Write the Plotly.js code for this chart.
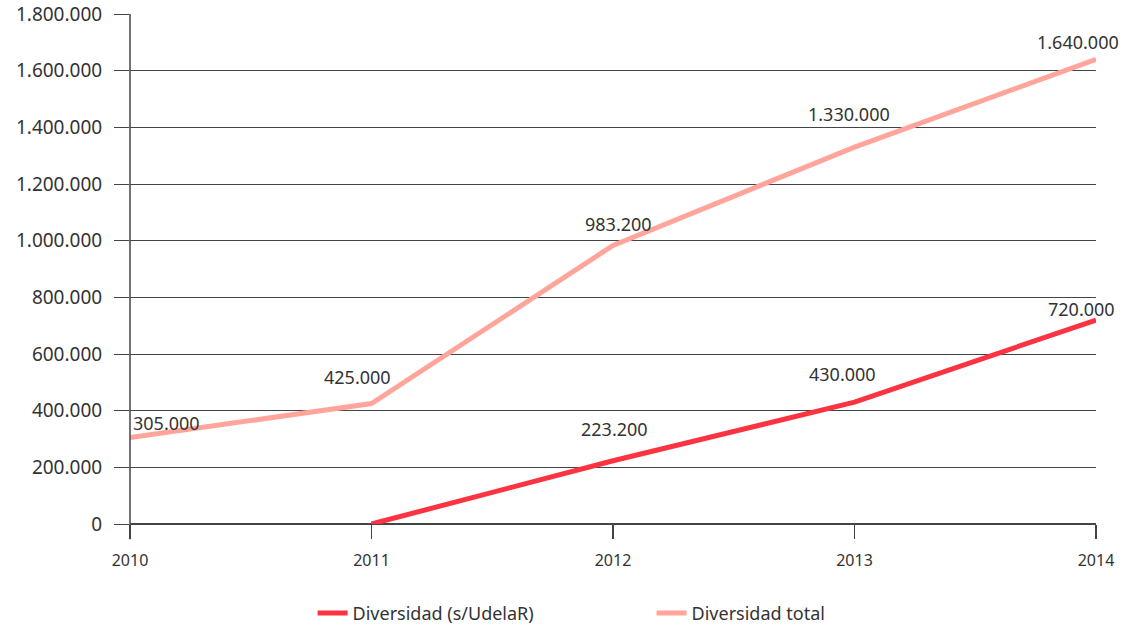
<!DOCTYPE html>
<html>
<head>
<meta charset="utf-8">
<script src="https://cdn.plot.ly/plotly-3.0.1.min.js"></script>
<style>html,body{margin:0;padding:0;background:#fff;}#chart{width:1132px;height:625px;}</style>
</head>
<body>
<div id="chart"></div>
<script>
const years = [2010, 2011, 2012, 2013, 2014];
const sinUdelar = [null, 0, 223200, 430000, 720000];
const total = [305000, 425000, 983200, 1330000, 1640000];
const sinUdelarLabels = ['', '', '223.200', '430.000', '720.000'];
const totalLabels = ['305.000', '425.000', '983.200', '1.330.000', '1.640.000'];
const yTicks = [0, 200000, 400000, 600000, 800000, 1000000, 1200000, 1400000, 1600000, 1800000];
const yTickText = ['0', '200.000', '400.000', '600.000', '800.000', '1.000.000', '1.200.000', '1.400.000', '1.600.000', '1.800.000'];

// label offsets in px (style only)
const sinShiftX = [0, 0, 1, -12, -15];
const sinShiftY = [0, 0, 32, 28, 11];
const totShiftX = [36, -14, 5, -6, -18];
const totShiftY = [15, 27, 21, 33, 17];

const font = 'Noto Sans, Open Sans, sans-serif';
const traces = [
  {
    x: years, y: sinUdelar, name: 'Diversidad (s/UdelaR)', mode: 'lines',
    line: {color: '#fc3441', width: 5}, connectgaps: false, cliponaxis: false
  },
  {
    x: years, y: total, name: 'Diversidad total', mode: 'lines',
    line: {color: '#ffa59c', width: 5}, cliponaxis: false
  }
];
const annotations = [];
years.forEach((yr, i) => {
  if (sinUdelarLabels[i]) annotations.push({x: yr, y: sinUdelar[i], text: sinUdelarLabels[i], showarrow: false,
    xshift: sinShiftX[i], yshift: sinShiftY[i], font: {family: font, size: 18, color: '#333'}});
  if (totalLabels[i]) annotations.push({x: yr, y: total[i], text: totalLabels[i], showarrow: false,
    xshift: totShiftX[i], yshift: totShiftY[i], font: {family: font, size: 18, color: '#333'}});
});
const layout = {
  width: 1132, height: 625,
  margin: {l: 130, r: 36, t: 14, b: 101, autoexpand: false},
  paper_bgcolor: '#fff', plot_bgcolor: '#fff',
  font: {family: font, color: '#333'},
  showlegend: true,
  legend: {orientation: 'h', x: 0.189, xanchor: 'left', y: -0.175, yanchor: 'middle',
    font: {family: font, size: 18, color: '#333'}, entrywidth: 294, traceorder: 'normal'},
  xaxis: {
    range: [2010, 2014], tickvals: years, ticktext: years.map(String),
    showgrid: false, zeroline: false, showline: false,
    ticks: 'outside', ticklen: 14, tickcolor: '#444', tickwidth: 1.5,
    tickfont: {family: font, size: 16, color: '#333'}, ticklabelstandoff: 8, fixedrange: true
  },
  yaxis: {
    range: [0, 1800000], tickvals: yTicks, ticktext: yTickText,
    showgrid: true, gridcolor: '#444', gridwidth: 1, zeroline: true, zerolinecolor: '#444', zerolinewidth: 1.5,
    showline: false, ticks: 'outside', ticklen: 15, tickcolor: '#444', tickwidth: 1,
    tickfont: {family: font, size: 19, color: '#333'}, ticklabelstandoff: 8, fixedrange: true
  },
  annotations: annotations,
  shapes: [
    {type: 'line', xref: 'paper', yref: 'paper', x0: 0, x1: 0, y0: 1, y1: -0.03,
     line: {color: '#444', width: 1.5}}
  ]
};
Plotly.newPlot('chart', traces, layout, {displayModeBar: false, staticPlot: true});
</script>
</body>
</html>
